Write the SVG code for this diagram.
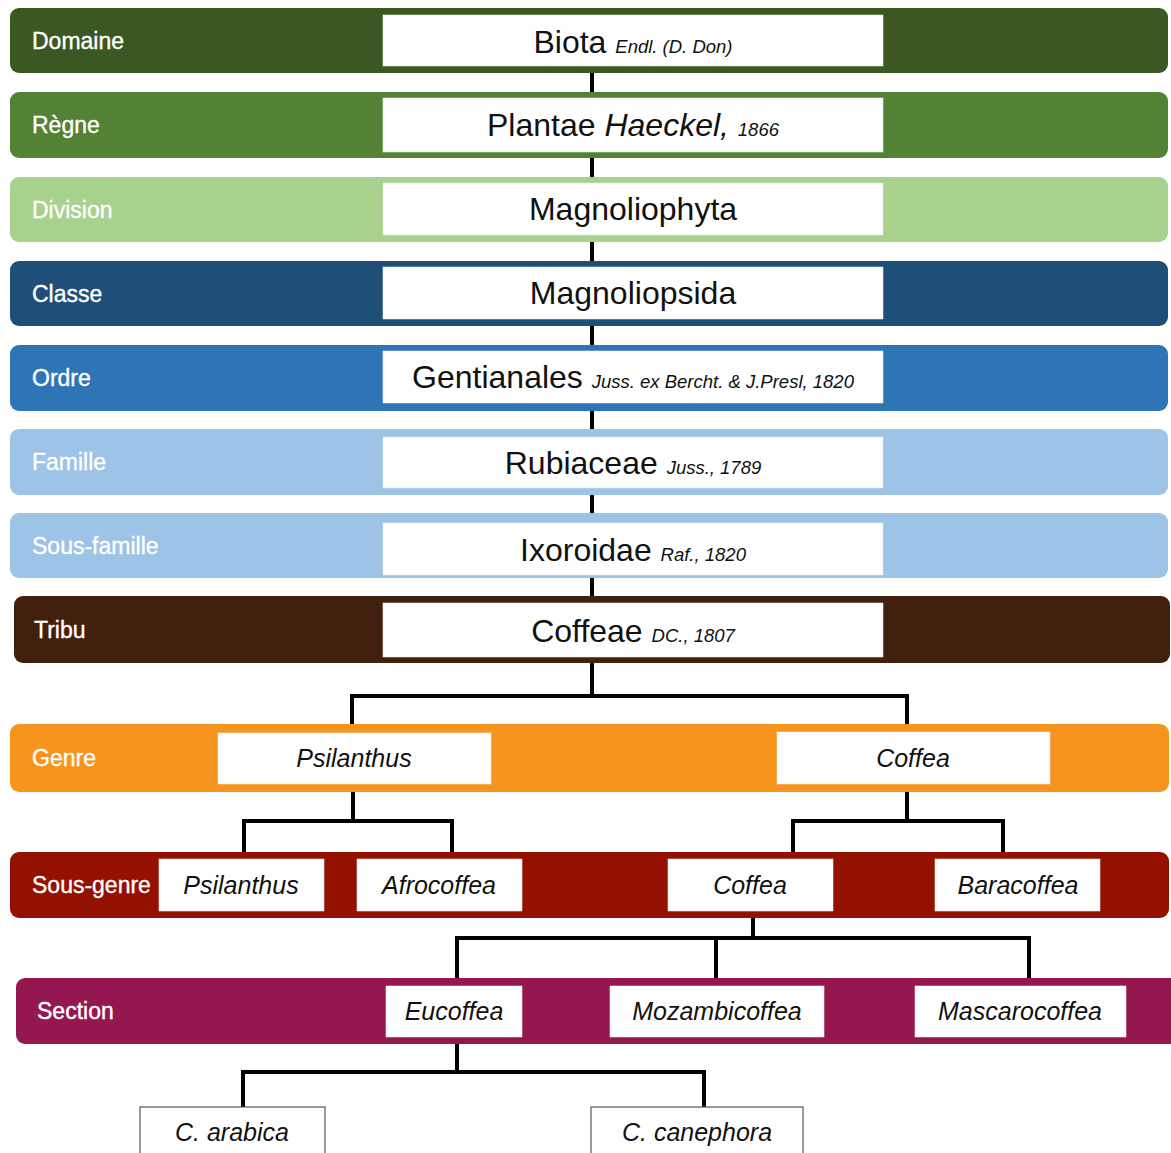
<svg xmlns="http://www.w3.org/2000/svg" width="1171" height="1153" viewBox="0 0 1171 1153">
<style>
.band{stroke:none}
.lbl{font-family:"Liberation Sans",Arial,sans-serif;font-size:23px;fill:#ffffff;stroke:#ffffff;stroke-width:0.35}
.box{fill:#ffffff;stroke:#e6e6e6;stroke-width:0.6}
.leaf{fill:#ffffff;stroke:#555555;stroke-width:1.2}
.big{font-family:"Liberation Sans",Arial,sans-serif;font-size:32px;fill:#111111;text-anchor:middle}
.auth{font-size:18.5px;font-style:italic}
.nm{font-family:"Liberation Sans",Arial,sans-serif;font-size:25px;font-style:italic;fill:#111111;text-anchor:middle}
.con{fill:none;stroke:#000000;stroke-width:4;stroke-linecap:square;stroke-linejoin:miter}
</style>
<rect width="1171" height="1153" fill="#ffffff"/>
<g id="connectors">
<path class="con" d="M592 70 V96 M592 156 V180 M592 240 V264 M592 324 V348 M592 408 V432 M592 492 V516 M592 576 V600"/>
<path class="con" d="M592 660 V696 M352 696 H907 M352 696 V726 M907 696 V726"/>
<path class="con" d="M353 790 V821 M244 821 H452 M244 821 V854 M452 821 V854"/>
<path class="con" d="M907 790 V821 M793 821 H1003 M793 821 V854 M1003 821 V854"/>
<path class="con" d="M753 916 V938 M457 938 H1029 M457 938 V980 M716 938 V980 M1029 938 V980"/>
<path class="con" d="M457 1042 V1072 M243 1072 H704 M243 1072 V1107 M704 1072 V1107"/>
</g>
<g id="domaine">
<rect class="band" x="10" y="8" width="1158" height="65" rx="9" fill="#3B5823"/>
<text class="lbl" x="32" y="49">Domaine</text>
<rect class="box" x="383" y="15" width="500" height="51"/>
<text class="big" x="633" y="53">Biota <tspan class="auth">Endl. (D. Don)</tspan></text>
</g>
<g id="regne">
<rect class="band" x="10" y="92" width="1158" height="66" rx="9" fill="#548235"/>
<text class="lbl" x="32" y="133">Règne</text>
<rect class="box" x="383" y="98" width="500" height="54"/>
<text class="big" x="633" y="136">Plantae <tspan font-style="italic">Haeckel,</tspan> <tspan class="auth">1866</tspan></text>
</g>
<g id="division">
<rect class="band" x="10" y="177" width="1158" height="65" rx="9" fill="#A9D18E"/>
<text class="lbl" x="32" y="217.5">Division</text>
<rect class="box" x="383" y="183" width="500" height="52"/>
<text class="big" x="633" y="220">Magnoliophyta</text>
</g>
<g id="classe">
<rect class="band" x="10" y="261" width="1158" height="65" rx="9" fill="#1F4E79"/>
<text class="lbl" x="32" y="302">Classe</text>
<rect class="box" x="383" y="267" width="500" height="52"/>
<text class="big" x="633" y="304">Magnoliopsida</text>
</g>
<g id="ordre">
<rect class="band" x="10" y="345" width="1158" height="66" rx="9" fill="#2E75B6"/>
<text class="lbl" x="32" y="386">Ordre</text>
<rect class="box" x="383" y="351" width="500" height="52"/>
<text class="big" x="633" y="388">Gentianales <tspan class="auth">Juss. ex Bercht. &amp; J.Presl, 1820</tspan></text>
</g>
<g id="famille">
<rect class="band" x="10" y="429" width="1158" height="66" rx="9" fill="#9DC3E6"/>
<text class="lbl" x="32" y="470">Famille</text>
<rect class="box" x="383" y="437" width="500" height="51"/>
<text class="big" x="633" y="474">Rubiaceae <tspan class="auth">Juss., 1789</tspan></text>
</g>
<g id="sous-famille">
<rect class="band" x="10" y="513" width="1158" height="65" rx="9" fill="#9DC3E6"/>
<text class="lbl" x="32" y="554">Sous-famille</text>
<rect class="box" x="383" y="523" width="500" height="52"/>
<text class="big" x="633" y="561">Ixoroidae <tspan class="auth">Raf., 1820</tspan></text>
</g>
<g id="tribu">
<rect class="band" x="14" y="596" width="1156" height="67" rx="9" fill="#42200E"/>
<text class="lbl" x="34" y="638">Tribu</text>
<rect class="box" x="383" y="603" width="500" height="54"/>
<text class="big" x="633" y="642">Coffeae <tspan class="auth">DC., 1807</tspan></text>
</g>
<g id="genre">
<rect class="band" x="10" y="724" width="1159" height="68" rx="9" fill="#F7941E"/>
<text class="lbl" x="32" y="766">Genre</text>
</g>
<g id="genre-psilanthus">
<rect class="box" x="218" y="733" width="273" height="51"/>
<text class="nm" x="354" y="767">Psilanthus</text>
</g>
<g id="genre-coffea">
<rect class="box" x="777" y="732" width="273" height="52"/>
<text class="nm" x="913" y="767">Coffea</text>
</g>
<g id="sous-genre">
<rect class="band" x="10" y="852" width="1159" height="66" rx="9" fill="#941100"/>
<text class="lbl" x="32" y="893">Sous-genre</text>
</g>
<g id="sg-psilanthus">
<rect class="box" x="159" y="859" width="165" height="52"/>
<text class="nm" x="241" y="894">Psilanthus</text>
</g>
<g id="sg-afrocoffea">
<rect class="box" x="357" y="859" width="165" height="52"/>
<text class="nm" x="439" y="894">Afrocoffea</text>
</g>
<g id="sg-coffea">
<rect class="box" x="668" y="859" width="165" height="52"/>
<text class="nm" x="750" y="894">Coffea</text>
</g>
<g id="sg-baracoffea">
<rect class="box" x="935" y="859" width="165" height="52"/>
<text class="nm" x="1018" y="894">Baracoffea</text>
</g>
<g id="section">
<rect class="band" x="16" y="978" width="1164" height="66" rx="9" fill="#95174F"/>
<text class="lbl" x="37" y="1019">Section</text>
</g>
<g id="sec-eucoffea">
<rect class="box" x="386" y="986" width="136" height="51"/>
<text class="nm" x="454" y="1020">Eucoffea</text>
</g>
<g id="sec-mozambicoffea">
<rect class="box" x="610" y="986" width="214" height="51"/>
<text class="nm" x="717" y="1020">Mozambicoffea</text>
</g>
<g id="sec-mascarocoffea">
<rect class="box" x="915" y="986" width="211" height="51"/>
<text class="nm" x="1020" y="1020">Mascarocoffea</text>
</g>
<g id="c-arabica">
<rect class="leaf" x="140" y="1107" width="185" height="60"/>
<text class="nm" x="232" y="1141">C. arabica</text>
</g>
<g id="c-canephora">
<rect class="leaf" x="591" y="1107" width="212" height="60"/>
<text class="nm" x="697" y="1141">C. canephora</text>
</g>
</svg>
